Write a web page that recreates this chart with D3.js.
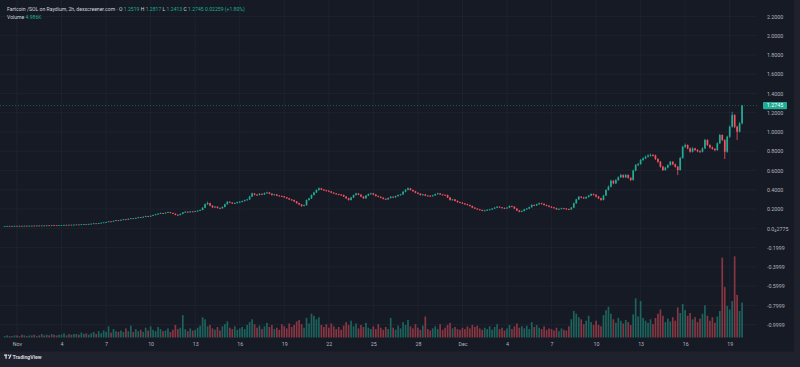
<!DOCTYPE html>
<html><head><meta charset="utf-8">
<script src="https://cdn.jsdelivr.net/npm/d3@7"></script>
<style>
html,body{margin:0;padding:0;background:#1f222c;overflow:hidden;}
svg{display:block;}
text{font-family:Roboto,"Noto Sans",sans-serif;}
</style></head><body>
<svg id="chart" width="800" height="367"></svg>
<script>
// ---- DATA (4h candles, first candle 2024-10-31 04:00 UTC) ----
const firstCandle = "2024-10-31T04:00:00Z";
const candleHours = 4;
const firstOpen = 0.024;
const closes = [
0.024,0.025,0.024,0.025,0.026,
0.025,0.026,0.025,0.027,0.026,0.027,
0.028,0.027,0.029,0.028,0.030,0.029,
0.031,0.030,0.033,0.032,0.031,0.033,
0.034,0.036,0.035,0.037,0.036,0.038,
0.040,0.039,0.042,0.044,0.043,0.046,
0.048,0.052,0.050,0.055,0.058,0.062,
0.066,0.072,0.070,0.078,0.084,0.082,
0.088,0.094,0.091,0.099,0.104,0.101,
0.108,0.115,0.112,0.120,0.126,0.123,
0.130,0.138,0.146,0.152,0.158,0.155,
0.162,0.168,0.160,0.152,0.140,0.138,
0.150,0.166,0.172,0.168,0.175,0.172,
0.178,0.183,0.190,0.214,0.250,0.262,
0.236,0.218,0.225,0.212,0.208,0.222,
0.250,0.276,0.268,0.258,0.262,0.272,
0.276,0.282,0.292,0.300,0.330,0.362,
0.350,0.346,0.358,0.352,0.366,0.372,
0.360,0.346,0.352,0.340,0.336,0.332,
0.322,0.312,0.300,0.294,0.280,0.262,
0.248,0.232,0.240,0.294,0.310,0.346,
0.372,0.398,0.415,0.402,0.395,0.390,
0.382,0.370,0.362,0.356,0.350,0.346,
0.330,0.312,0.294,0.320,0.346,0.362,
0.350,0.330,0.312,0.340,0.356,0.363,
0.350,0.336,0.328,0.318,0.306,0.301,
0.315,0.328,0.322,0.335,0.346,0.352,
0.380,0.400,0.415,0.398,0.385,0.370,
0.360,0.346,0.352,0.340,0.338,0.335,
0.342,0.355,0.363,0.352,0.348,0.346,
0.320,0.294,0.300,0.285,0.272,0.266,
0.258,0.250,0.242,0.232,0.215,0.205,
0.197,0.190,0.183,0.186,0.192,0.197,
0.205,0.215,0.224,0.218,0.212,0.208,
0.215,0.232,0.225,0.205,0.185,0.172,
0.180,0.197,0.205,0.220,0.242,0.238,
0.250,0.260,0.255,0.242,0.235,0.224,
0.218,0.210,0.197,0.202,0.208,0.205,
0.200,0.197,0.215,0.260,0.300,0.328,
0.320,0.312,0.325,0.340,0.356,0.348,
0.330,0.312,0.294,0.340,0.398,0.432,
0.494,0.467,0.500,0.530,0.553,0.530,
0.553,0.525,0.502,0.600,0.657,0.667,
0.709,0.726,0.743,0.755,0.761,0.758,
0.720,0.691,0.640,0.605,0.630,0.657,
0.691,0.665,0.640,0.605,0.730,0.847,
0.865,0.830,0.795,0.830,0.813,0.800,
0.795,0.830,0.917,0.865,0.840,0.825,
0.813,0.883,0.969,0.917,0.795,0.951,
1.055,1.176,1.055,1.003,1.090,1.2745
];
const highs = [
0.025,0.026,0.026,0.026,0.027,
0.027,0.027,0.027,0.028,0.028,0.028,
0.029,0.029,0.030,0.030,0.031,0.031,
0.032,0.032,0.034,0.034,0.033,0.034,
0.035,0.037,0.037,0.038,0.038,0.039,
0.041,0.041,0.043,0.045,0.045,0.047,
0.050,0.054,0.053,0.057,0.060,0.064,
0.068,0.075,0.074,0.080,0.087,0.086,
0.091,0.097,0.096,0.102,0.107,0.106,
0.111,0.119,0.118,0.123,0.130,0.129,
0.134,0.142,0.150,0.157,0.163,0.161,
0.166,0.173,0.170,0.163,0.154,0.145,
0.154,0.170,0.178,0.176,0.180,0.178,
0.182,0.188,0.195,0.220,0.258,0.278,
0.265,0.240,0.232,0.228,0.216,0.228,
0.256,0.284,0.280,0.270,0.268,0.278,
0.282,0.288,0.298,0.306,0.338,0.372,
0.366,0.356,0.364,0.362,0.372,0.380,
0.376,0.364,0.358,0.355,0.344,0.340,
0.335,0.326,0.315,0.305,0.298,0.284,
0.266,0.252,0.246,0.300,0.318,0.352,
0.380,0.405,0.425,0.420,0.408,0.400,
0.395,0.388,0.376,0.366,0.360,0.356,
0.350,0.336,0.318,0.326,0.352,0.370,
0.366,0.354,0.334,0.346,0.362,0.370,
0.368,0.356,0.340,0.332,0.322,0.312,
0.320,0.334,0.332,0.340,0.352,0.358,
0.386,0.408,0.424,0.418,0.402,0.390,
0.374,0.364,0.358,0.355,0.346,0.344,
0.348,0.360,0.370,0.366,0.356,0.352,
0.350,0.326,0.306,0.304,0.290,0.278,
0.272,0.264,0.255,0.246,0.236,0.220,
0.210,0.202,0.195,0.192,0.198,0.202,
0.210,0.220,0.232,0.228,0.222,0.216,
0.220,0.238,0.236,0.228,0.208,0.190,
0.186,0.203,0.212,0.226,0.250,0.248,
0.256,0.268,0.266,0.258,0.248,0.238,
0.230,0.222,0.214,0.208,0.214,0.212,
0.210,0.205,0.222,0.268,0.308,0.336,
0.336,0.328,0.332,0.348,0.364,0.362,
0.354,0.336,0.318,0.348,0.406,0.445,
0.505,0.500,0.512,0.540,0.566,0.560,
0.565,0.560,0.530,0.610,0.668,0.680,
0.720,0.738,0.755,0.770,0.775,0.772,
0.765,0.728,0.700,0.650,0.640,0.665,
0.700,0.698,0.672,0.648,0.742,0.858,
0.880,0.872,0.838,0.842,0.836,0.822,
0.812,0.840,0.930,0.925,0.872,0.850,
0.832,0.892,0.980,0.975,0.925,0.962,
1.068,1.210,1.185,1.065,1.102,1.2817
];
const lows = [
0.023,0.024,0.023,0.023,0.024,
0.024,0.024,0.024,0.025,0.025,0.025,
0.026,0.026,0.026,0.027,0.027,0.028,
0.028,0.029,0.029,0.031,0.030,0.030,
0.032,0.033,0.034,0.034,0.035,0.035,
0.037,0.038,0.038,0.041,0.042,0.042,
0.045,0.047,0.049,0.049,0.054,0.057,
0.060,0.065,0.068,0.069,0.076,0.079,
0.080,0.086,0.089,0.089,0.097,0.099,
0.099,0.106,0.109,0.110,0.118,0.120,
0.120,0.127,0.135,0.143,0.149,0.151,
0.152,0.159,0.157,0.148,0.136,0.132,
0.135,0.147,0.163,0.165,0.166,0.168,
0.169,0.175,0.180,0.188,0.210,0.244,
0.230,0.212,0.214,0.206,0.200,0.205,
0.218,0.246,0.262,0.252,0.253,0.258,
0.266,0.270,0.279,0.288,0.296,0.326,
0.342,0.338,0.342,0.345,0.348,0.360,
0.354,0.340,0.342,0.334,0.330,0.325,
0.316,0.305,0.294,0.286,0.274,0.255,
0.240,0.224,0.228,0.236,0.288,0.305,
0.340,0.366,0.392,0.396,0.388,0.382,
0.376,0.364,0.355,0.349,0.344,0.339,
0.325,0.305,0.288,0.290,0.315,0.340,
0.344,0.324,0.306,0.308,0.335,0.350,
0.344,0.330,0.322,0.312,0.300,0.294,
0.296,0.310,0.316,0.318,0.330,0.340,
0.348,0.374,0.394,0.392,0.380,0.364,
0.354,0.340,0.342,0.334,0.332,0.328,
0.330,0.338,0.350,0.346,0.342,0.340,
0.314,0.288,0.290,0.280,0.266,0.260,
0.252,0.244,0.236,0.226,0.210,0.200,
0.192,0.185,0.178,0.179,0.183,0.188,
0.192,0.200,0.210,0.213,0.206,0.202,
0.204,0.210,0.220,0.200,0.180,0.167,
0.168,0.176,0.192,0.200,0.215,0.232,
0.232,0.245,0.248,0.236,0.228,0.218,
0.212,0.204,0.192,0.194,0.198,0.200,
0.194,0.190,0.194,0.210,0.255,0.295,
0.312,0.304,0.306,0.320,0.335,0.340,
0.322,0.304,0.286,0.290,0.336,0.392,
0.425,0.458,0.460,0.494,0.524,0.522,
0.522,0.515,0.490,0.495,0.592,0.645,
0.660,0.700,0.718,0.735,0.745,0.745,
0.710,0.680,0.630,0.595,0.598,0.622,
0.650,0.655,0.630,0.553,0.600,0.722,
0.835,0.820,0.785,0.788,0.805,0.790,
0.782,0.788,0.822,0.855,0.830,0.815,
0.800,0.805,0.875,0.905,0.720,0.785,
0.940,1.045,1.040,0.917,0.995,1.080
];
const volumesK = [
0.2,0.3,0.2,0.2,0.3,
0.3,0.2,0.4,0.3,0.2,0.3,
0.3,0.4,0.2,0.3,0.5,0.3,
0.4,0.3,0.5,0.4,0.3,0.4,
0.4,0.6,0.3,0.5,0.4,0.5,
0.5,0.4,0.7,0.5,0.6,0.4,
0.6,0.8,0.5,0.9,0.6,1.0,
0.8,1.6,0.7,1.2,0.9,0.8,
1.0,0.8,1.3,0.9,1.7,0.8,
1.2,0.9,1.1,0.8,1.4,1.0,
1.6,1.1,0.9,1.5,1.2,0.9,
1.0,1.3,0.8,1.1,1.8,1.2,
1.4,3.2,1.2,0.9,1.3,1.0,
1.1,1.4,1.7,2.9,2.6,1.6,
1.8,1.3,1.1,1.5,1.0,1.6,
1.9,2.3,1.4,1.2,1.6,1.1,
1.3,1.5,1.2,1.8,2.2,2.6,
1.9,1.4,1.7,1.2,1.6,2.1,
1.5,1.8,1.2,1.4,1.1,1.9,
1.6,1.3,2.0,1.5,1.8,2.3,
2.5,1.9,1.4,2.8,2.0,3.4,
3.1,2.6,2.9,1.8,1.5,1.9,
1.4,2.0,1.6,1.2,1.5,1.1,
1.7,2.2,1.8,2.4,1.6,2.0,
1.3,1.8,1.5,2.1,1.4,1.2,
1.6,1.2,1.9,1.4,1.1,1.5,
1.2,2.8,1.4,1.1,1.7,1.3,
2.2,1.8,2.5,1.6,1.3,1.9,
1.4,1.1,1.7,3.0,1.2,1.0,
1.3,1.6,1.2,1.9,1.1,1.4,
1.8,2.1,1.3,1.5,1.2,1.1,
1.4,1.2,1.6,1.3,1.8,1.5,
1.7,1.3,1.1,1.4,1.2,1.6,
1.1,1.5,1.9,1.2,1.4,1.0,
1.3,1.8,1.2,1.6,2.0,1.4,
1.6,1.3,1.7,1.2,2.2,1.5,
1.8,1.4,1.2,1.6,1.1,1.3,
1.2,1.0,1.4,0.9,1.3,1.1,
1.0,1.6,2.6,3.8,3.4,2.9,
2.6,1.9,2.4,3.1,2.2,1.8,
2.4,1.8,1.6,3.2,3.9,4.4,
3.4,2.6,2.1,2.8,2.4,2.0,
2.5,2.2,1.8,3.3,5.6,3.0,
5.2,2.8,2.4,2.1,2.6,1.9,
2.8,3.4,4.0,3.1,2.2,2.7,
2.3,2.9,2.4,4.3,3.5,4.8,
3.9,3.1,3.5,2.6,2.9,2.2,
2.7,3.4,4.6,3.1,2.4,2.9,
2.1,3.0,3.8,11.4,7.2,4.5,
4.0,5.2,11.6,6.1,3.8,4.986
];
const priceTickValues = [2.2,2.0,1.8,1.6,1.4,1.2,1.0,0.8,0.6,0.4,0.2,0.0,-0.2,-0.4,-0.6,-0.8,-1.0];
const priceTickLabels = ["2.2000","2.0000","1.8000","1.6000","1.4000","1.2000","1.0000","0.8000","0.6000","0.4000","0.2000","0.0|4|2775","-0.1999","-0.3999","-0.5999","-0.7999","-0.9999"];
const timeTickDates = ["2024-11-01","2024-11-04","2024-11-07","2024-11-10","2024-11-13","2024-11-16","2024-11-19","2024-11-22","2024-11-25","2024-11-28","2024-12-01","2024-12-04","2024-12-07","2024-12-10","2024-12-13","2024-12-16","2024-12-19"];
const timeTickLabels = ["Nov","4","7","10","13","16","19","22","25","28","Dec","4","7","10","13","16","19"];
const lastPrice = 1.2745;
const titleText = "Fartcoin /SOL on Raydium, 2h, dexscreener.com";
const ohlcLabels = ["O","H","L","C"];
const ohlcValues = ["1.2519","1.2817","1.2413","1.2745"];
const changeText = "0.02259 (+1.80%)";
const volumeLabel = "Volume";
const volumeValue = "4.986K";

// ---- STYLE ----
const UP = "#22ab94", DOWN = "#f7525f";
const BG = "#161a25", GRID = "#1e2230", AXIS_TXT = "#b2b5be";

const svg = d3.select("#chart");
svg.append("rect").attr("x",0).attr("y",0).attr("width",794).attr("height",351.5).attr("fill",BG);

const paneRight = 757;
const x = d3.scaleUtc()
  .domain([new Date("2024-11-01T00:00:00Z"), new Date("2024-12-19T00:00:00Z")])
  .range([17, 729.7]);
const y = d3.scaleLinear().domain([-1.0, 2.2]).range([324.7, 16.4]);
const yVol = d3.scaleLinear().domain([0, 12]).range([337.5, 253.5]);

const t0 = new Date(firstCandle).getTime();
const data = closes.map((c,i)=>({
  t: new Date(t0 + i*candleHours*3600e3),
  o: i===0 ? firstOpen : closes[i-1],
  h: highs[i], l: lows[i], c: c, v: volumesK[i]
}));

// grid
const grid = svg.append("g");
grid.selectAll("line.h").data(priceTickValues).join("line")
  .attr("x1",0).attr("x2",paneRight).attr("y1",d=>y(d)).attr("y2",d=>y(d))
  .attr("stroke",GRID).attr("stroke-width",1);
const tDates = timeTickDates.map(s=>new Date(s+"T00:00:00Z"));
grid.selectAll("line.v").data(tDates).join("line")
  .attr("x1",d=>x(d)).attr("x2",d=>x(d)).attr("y1",0).attr("y2",338)
  .attr("stroke",GRID).attr("stroke-width",1);

// clip
svg.append("clipPath").attr("id","pane").append("rect").attr("x",0).attr("y",0).attr("width",paneRight).attr("height",338);
const pane = svg.append("g").attr("clip-path","url(#pane)");

const step = x(new Date(t0 + candleHours*3600e3)) - x(new Date(t0));
const bw = step*0.68;

// volume
pane.append("g").selectAll("rect").data(data).join("rect")
  .attr("x",d=>x(d.t)-bw/2).attr("width",bw)
  .attr("y",d=>yVol(d.v)).attr("height",d=>yVol(0)-yVol(d.v))
  .attr("fill",d=>d.c>=d.o?UP:DOWN).attr("opacity",0.5);

// last price line
pane.append("line").attr("x1",0).attr("x2",paneRight).attr("y1",y(lastPrice)).attr("y2",y(lastPrice))
  .attr("stroke",UP).attr("stroke-opacity",0.55).attr("stroke-dasharray","1,2").attr("stroke-width",0.8);

// candles
const cg = pane.append("g");
cg.selectAll("line").data(data).join("line")
  .attr("x1",d=>x(d.t)).attr("x2",d=>x(d.t))
  .attr("y1",d=>y(d.h)).attr("y2",d=>y(d.l))
  .attr("stroke",d=>d.c>=d.o?UP:DOWN).attr("stroke-width",0.8);
cg.selectAll("rect").data(data).join("rect")
  .attr("x",d=>x(d.t)-bw/2).attr("width",bw)
  .attr("y",d=>y(Math.max(d.o,d.c)))
  .attr("height",d=>Math.max(0.8, Math.abs(y(d.o)-y(d.c))))
  .attr("fill",d=>d.c>=d.o?UP:DOWN);

// price axis
const yAxis = d3.axisRight(y).tickValues(priceTickValues).tickFormat((d,i)=>priceTickLabels[i].split("|").join("")).tickSize(0).tickPadding(0);
const ya = svg.append("g").attr("transform","translate(767,0)").call(yAxis);
ya.select(".domain").remove();
ya.selectAll("text").attr("fill",AXIS_TXT).attr("font-size","5.3px").attr("font-family","Roboto, sans-serif")
  .each(function(d,i){
    const parts = priceTickLabels[i].split("|");
    if (parts.length === 3) {
      const t = d3.select(this).text("");
      t.append("tspan").text(parts[0]);
      t.append("tspan").attr("font-size","3.8px").attr("dy","1.2").text(parts[1]);
      t.append("tspan").attr("dy","-1.2").text(parts[2]);
    }
  });

// last price label
svg.append("rect").attr("x",763).attr("y",y(lastPrice)-3.6).attr("width",24).attr("height",7.2).attr("rx",0.8).attr("fill",UP);
svg.append("text").attr("x",775).attr("y",y(lastPrice)).attr("dy","0.35em").attr("text-anchor","middle")
  .attr("fill","#ffffff").attr("font-size","5.3px").text(d3.format(".4f")(lastPrice));

// time axis
const xAxis = d3.axisBottom(x).tickValues(tDates).tickFormat((d,i)=>timeTickLabels[i]).tickSize(0).tickPadding(0);
const xa = svg.append("g").attr("transform","translate(0,342.6)").call(xAxis);
xa.select(".domain").remove();
xa.selectAll("text").attr("fill",AXIS_TXT).attr("font-size","5.3px").attr("font-family","Roboto, sans-serif");

// header
const h1 = svg.append("text").attr("x",7).attr("y",11).attr("font-size","5.1px").attr("fill","#d1d4dc");
h1.append("tspan").text(titleText + " \u00b7 ");
ohlcLabels.forEach((l,i)=>{
  h1.append("tspan").attr("fill","#d1d4dc").text(l+" ");
  h1.append("tspan").attr("fill",UP).text(ohlcValues[i]+"  ");
});
h1.append("tspan").attr("fill",UP).text(changeText);
const h2 = svg.append("text").attr("x",7).attr("y",19).attr("font-size","5.1px").attr("fill","#d1d4dc");
h2.append("tspan").text(volumeLabel+"  ");
h2.append("tspan").attr("fill",UP).text(volumeValue);

// TradingView logo
const lg = svg.append("g").attr("transform","translate(4,354.5)");
lg.append("rect").attr("x",0).attr("y",0).attr("width",3.2).attr("height",1.3).attr("fill","#d1d4dc");
lg.append("rect").attr("x",1.4).attr("y",0).attr("width",1.3).attr("height",4.2).attr("fill","#d1d4dc");
lg.append("circle").attr("cx",4.6).attr("cy",0.8).attr("r",0.8).attr("fill","#d1d4dc");
lg.append("path").attr("d","M4.4,4.2 L6.2,0 L7.7,0 L5.9,4.2 Z").attr("fill","#d1d4dc");
svg.append("text").attr("x",12.5).attr("y",358.6).attr("font-size","5.2px").attr("font-weight","bold").attr("fill","#d1d4dc").text("TradingView");
</script>
</body></html>
